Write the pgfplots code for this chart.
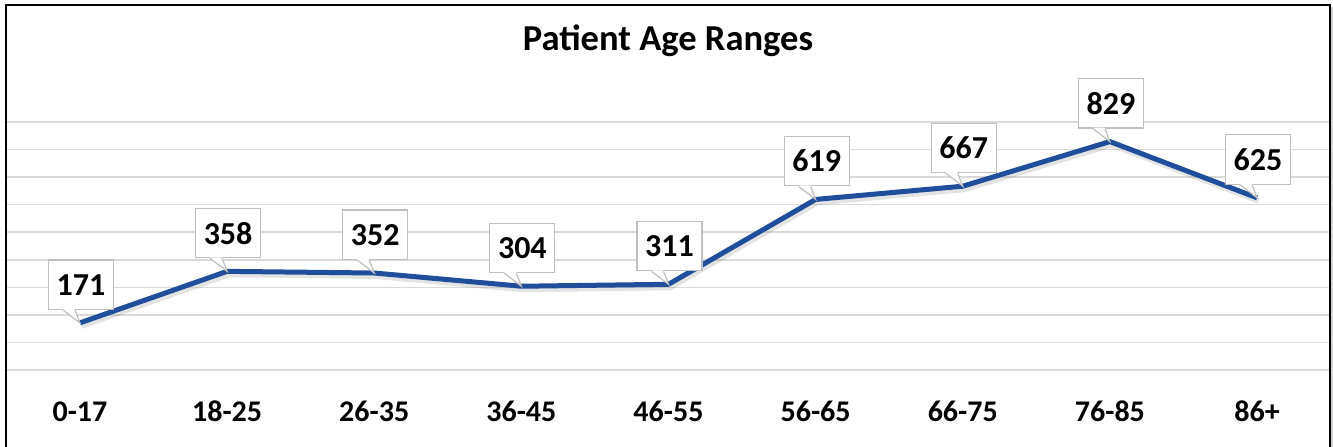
\documentclass[border=0pt]{standalone}
\usepackage{fontspec}
\setmainfont{Carlito}
\usepackage{pgfplots}
\pgfplotsset{compat=1.18}
\definecolor{lineblue}{HTML}{1F4E9A}
\definecolor{gridgray}{HTML}{D9D9D9}
\definecolor{boxgray}{HTML}{BFBFBF}
\pgfdeclareplotmark{callptr}{%
  \pgfpathmoveto{\pgfqpoint{-12.75pt}{10.5pt}}%
  \pgfpathlineto{\pgfqpoint{-12.75pt}{9.75pt}}%
  \pgfpathlineto{\pgfqpoint{0pt}{0pt}}%
  \pgfpathlineto{\pgfqpoint{-3.75pt}{9.75pt}}%
  \pgfpathlineto{\pgfqpoint{-3.75pt}{10.5pt}}%
  \pgfpathclose
  \pgfusepath{fill}%
  \pgfpathmoveto{\pgfqpoint{-12.75pt}{9.75pt}}%
  \pgfpathlineto{\pgfqpoint{0pt}{0pt}}%
  \pgfpathlineto{\pgfqpoint{-3.75pt}{9.75pt}}%
  \pgfusepath{stroke}%
}
\begin{document}
\begin{tikzpicture}
\useasboundingbox (-4.8pt,-57pt) rectangle (994.95pt,277.5pt);
\fill[white] (-4.8pt,-57pt) rectangle (994.95pt,277.5pt);
\begin{axis}[
  at={(0pt,0pt)}, anchor=south west,
  scale only axis, width=993.15pt, height=186pt,
  xmin=-0.5, xmax=8.5, ymin=0, ymax=900,
  xtick={0,...,8},
  xticklabels={0-17,18-25,26-35,36-45,46-55,56-65,66-75,76-85,86+},
  xticklabel style={anchor=base, yshift=-38.8pt, font=\fontsize{22.5}{24}\selectfont\bfseries},
  ytick={0,100,...,900}, yticklabels={},
  ymajorgrids, grid style={gridgray, line width=1.1pt},
  axis line style={draw=none}, major tick length=0pt,
  clip=false,
  /pgf/number format/assume math mode=true,
]
% line shadow
\addplot[gray, opacity=0.22, line width=4pt, line join=round, transform canvas={xshift=1.2pt,yshift=-2.5pt}] coordinates {
(0,171) (1,358) (2,352) (3,304) (4,311) (5,619) (6,667) (7,829) (8,625)};
% label boxes
\addplot[draw=none, no marks,
  nodes near coords={\pgfmathprintnumber{\pgfplotspointmeta}},
  every node near coord/.append style={
     rectangle, draw=boxgray, fill=white, line width=0.9pt,
     font=\fontsize{24}{26}\selectfont\bfseries, text=black,
     minimum width=48.75pt, minimum height=37pt, inner sep=0pt,
     anchor=south, yshift=9.75pt, xshift=0.75pt}
] coordinates {
(0,171) (1,358) (2,352) (3,304) (4,311) (5,619) (6,667) (7,829) (8,625)};
% label pointers
\addplot[only marks, mark=callptr, mark options={draw=boxgray, fill=white, line width=0.9pt, line join=miter}] coordinates {
(0,171) (1,358) (2,352) (3,304) (4,311) (5,619) (6,667) (7,829) (8,625)};
% main line
\addplot[lineblue, line width=3.75pt, line join=round] coordinates {
(0,171) (1,358) (2,352) (3,304) (4,311) (5,619) (6,667) (7,829) (8,625)};
\end{axis}
\node[anchor=base, font=\fontsize{27.4}{30}\selectfont\bfseries] at (496.2pt,239.5pt) {Patient Age Ranges};
\draw[gray!35, line width=1.5pt] (994.2pt,272pt) -- (994.2pt,-60pt);
\draw[black, line width=1.5pt] (-0.3pt,-60pt) -- (-0.3pt,273.75pt) -- (992.7pt,273.75pt) -- (992.7pt,-60pt);
\end{tikzpicture}
\end{document}
